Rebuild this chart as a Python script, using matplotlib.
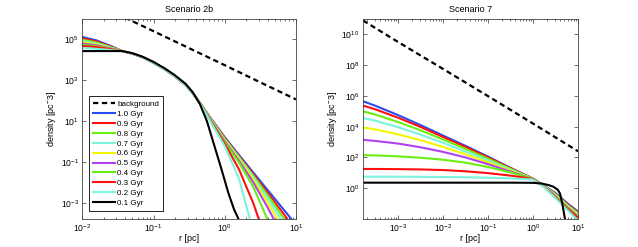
import numpy as np
import matplotlib
matplotlib.use('Agg')
import matplotlib.pyplot as plt
from matplotlib.ticker import LogLocator, NullLocator, NullFormatter

plt.rcParams['font.family'] = ['Liberation Sans', 'DejaVu Sans']
plt.rcParams['mathtext.fontset'] = 'custom'
plt.rcParams['mathtext.rm'] = 'Liberation Sans'
plt.rcParams['mathtext.it'] = 'Liberation Sans:italic'

# ---- data (log10 values) ----
ages = ['1.0 Gyr', '0.9 Gyr', '0.8 Gyr', '0.7 Gyr', '0.6 Gyr',
        '0.5 Gyr', '0.4 Gyr', '0.3 Gyr', '0.2 Gyr', '0.1 Gyr']
colors = ['#2a4cf5', '#ff1010', '#6aee10', '#78f5dc', '#f5f500',
          '#b040f0', '#6aee10', '#ff1010', '#78f5dc', '#000000']

# Scenario 2b
bg_2b_logr = [-1.4, -1.0, -0.5, 0.0, 0.5, 1.0]
bg_2b_logrho = [6.06, 5.4, 4.57, 3.74, 2.9, 2.07]

logr_2b = [-2, -1.8, -1.6, -1.44, -1.3, -1.15, -1.0, -0.85, -0.7, -0.55, -0.45, -0.35,
           -0.2, 0.0, 0.2, 0.4, 0.6, 0.8, 1.0]
rho_2b_10 = [5.12, 4.95, 4.68, 4.43, 4.31, 4.12, 3.86, 3.56, 3.2, 2.77, 2.38, 1.9,
             1.17, 0.22, -0.65, -1.5, -2.35, -3.2, -4.05]
rho_2b_09 = [5.05, 4.90, 4.65, 4.43, 4.31, 4.12, 3.86, 3.56, 3.2, 2.77, 2.38, 1.9,
             1.15, 0.18, -0.70, -1.58, -2.48, -3.4, -4.35]
rho_2b_08 = [4.98, 4.85, 4.62, 4.43, 4.31, 4.12, 3.86, 3.56, 3.2, 2.77, 2.38, 1.9,
             1.13, 0.14, -0.75, -1.65, -2.6, -3.6, -4.65]
rho_2b_07 = [4.92, 4.80, 4.60, 4.43, 4.31, 4.12, 3.86, 3.56, 3.2, 2.77, 2.38, 1.9,
             1.11, 0.10, -0.80, -1.73, -2.75, -3.85, -5.0]
rho_2b_06 = [4.86, 4.76, 4.58, 4.43, 4.31, 4.12, 3.86, 3.56, 3.2, 2.77, 2.38, 1.9,
             1.09, 0.06, -0.86, -1.84, -2.95, -4.15, -5.3]
rho_2b_05 = [4.80, 4.71, 4.56, 4.43, 4.31, 4.12, 3.86, 3.56, 3.2, 2.77, 2.38, 1.9,
             1.07, 0.02, -0.93, -1.98, -3.2, -4.5, -5.8]
rho_2b_04 = [4.74, 4.66, 4.54, 4.43, 4.31, 4.12, 3.86, 3.56, 3.2, 2.77, 2.38, 1.9,
             1.05, -0.03, -1.02, -2.2, -3.8, -5.2, -6.5]
rho_2b_03 = [4.68, 4.62, 4.52, 4.43, 4.31, 4.12, 3.86, 3.56, 3.2, 2.77, 2.38, 1.9,
             1.02, -0.10, -1.35, -3.0, -5.0, -6.5, -8.0]
rho_2b_02 = [4.58, 4.54, 4.48, 4.43, 4.31, 4.12, 3.86, 3.56, 3.2, 2.77, 2.38, 1.9,
             0.98, -0.22, -1.8, -4.4, -6.0, -7.0, -8.0]
logr_2b_01 = [-2, -1.44, -1.3, -1.15, -1.0, -0.85, -0.7, -0.55, -0.45, -0.35, -0.25,
              -0.15, -0.05, 0.05, 0.13, 0.2, 0.3]
rho_2b_01 = [4.43, 4.43, 4.33, 4.15, 3.9, 3.6, 3.25, 2.83, 2.42, 1.85, 1.0,
             -0.15, -1.3, -2.5, -3.3, -3.83, -4.6]

# Scenario 7
bg_7_logr = [-3.78, -3, -2, -1, 0, 0.5, 1.0]
bg_7_logrho = [10.9, 9.5, 7.75, 5.98, 4.2, 3.3, 2.4]

logr_7 = [-3.78, -3.5, -3, -2.5, -2, -1.5, -1, -0.5, 0, 0.25, 0.5, 0.75, 1.0]
rho_7_10 = [5.65, 5.35, 4.75, 4.1, 3.42, 2.75, 2.05, 1.32, 0.62, 0.15, -0.32, -0.95, -1.52]
rho_7_09 = [5.37, 5.12, 4.58, 3.98, 3.33, 2.68, 2.0, 1.3, 0.62, 0.14, -0.36, -1.0, -1.58]
rho_7_08 = [4.99, 4.78, 4.3, 3.76, 3.17, 2.55, 1.92, 1.26, 0.61, 0.13, -0.4, -1.05, -1.64]
rho_7_07 = [4.56, 4.38, 3.96, 3.48, 2.95, 2.38, 1.8, 1.2, 0.6, 0.12, -0.44, -1.1, -1.7]
rho_7_06 = [3.94, 3.82, 3.5, 3.12, 2.68, 2.2, 1.68, 1.14, 0.6, 0.11, -0.48, -1.15, -1.76]
rho_7_05 = [3.14, 3.07, 2.9, 2.66, 2.36, 2.0, 1.56, 1.08, 0.6, 0.1, -0.52, -1.2, -1.82]
rho_7_04 = [2.15, 2.13, 2.07, 1.98, 1.85, 1.66, 1.38, 1.02, 0.6, 0.09, -0.56, -1.25, -1.87]
rho_7_03 = [1.25, 1.25, 1.24, 1.22, 1.18, 1.1, 0.98, 0.82, 0.6, 0.08, -0.6, -1.3, -1.92]
rho_7_02 = [0.75, 0.75, 0.75, 0.74, 0.73, 0.71, 0.68, 0.64, 0.57, 0.06, -0.65, -1.38, -2.1]
logr_7_01 = [-3.78, -0.5, 0, 0.2, 0.35, 0.45, 0.55, 0.6, 0.65, 0.71, 0.76]
rho_7_01 = [0.36, 0.36, 0.35, 0.3, 0.2, 0.1, -0.1, -0.35, -1.0, -2.0, -2.6]

panels = [
    dict(title='Scenario 2b', bg=(bg_2b_logr, bg_2b_logrho),
         curves=[(logr_2b, rho_2b_10), (logr_2b, rho_2b_09), (logr_2b, rho_2b_08),
                 (logr_2b, rho_2b_07), (logr_2b, rho_2b_06), (logr_2b, rho_2b_05),
                 (logr_2b, rho_2b_04), (logr_2b, rho_2b_03), (logr_2b, rho_2b_02),
                 (logr_2b_01, rho_2b_01)],
         xlim=(1e-2, 1e1), ylim=(1.7e-4, 1e6),
         xticks=[1e-2, 1e-1, 1e0, 1e1], yticks=[1e-3, 1e-1, 1e1, 1e3, 1e5],
         rect=[0.129, 0.1134, 0.335, 0.81], legend=True),
    dict(title='Scenario 7', bg=(bg_7_logr, bg_7_logrho),
         curves=[(logr_7, rho_7_10), (logr_7, rho_7_09), (logr_7, rho_7_08),
                 (logr_7, rho_7_07), (logr_7, rho_7_06), (logr_7, rho_7_05),
                 (logr_7, rho_7_04), (logr_7, rho_7_03), (logr_7, rho_7_02),
                 (logr_7_01, rho_7_01)],
         xlim=(10**-3.78, 1e1), ylim=(1e-2, 1e11),
         xticks=[1e-3, 1e-2, 1e-1, 1e0, 1e1], yticks=[1e0, 1e2, 1e4, 1e6, 1e8, 1e10],
         rect=[0.569, 0.1134, 0.337, 0.81], legend=False),
]

fig = plt.figure(figsize=(6.38, 2.47), dpi=100)

for p in panels:
    ax = fig.add_axes(p['rect'])
    bx, by = p['bg']
    ax.plot(10**np.array(bx), 10**np.array(by), color='black', lw=1.6,
            linestyle=(0, (2.4, 1.6)), label='background')
    for (xs, ys), c, lab in zip(p['curves'], colors, ages):
        ax.plot(10**np.array(xs), 10**np.array(ys), color=c, lw=1.5, label=lab)
    ax.set_xscale('log')
    ax.set_yscale('log')
    ax.set_xlim(*p['xlim'])
    ax.set_ylim(*p['ylim'])
    ax.set_xticks(p['xticks'])
    ax.set_yticks(p['yticks'])
    ax.xaxis.set_minor_locator(LogLocator(base=10, subs=np.arange(2, 10)))
    ax.xaxis.set_minor_formatter(NullFormatter())
    ax.yaxis.set_minor_locator(NullLocator())
    ax.tick_params(which='both', direction='in', top=True, right=True,
                   width=0.5, colors='#333333', labelcolor='black')
    ax.tick_params(which='major', length=3, labelsize=6.2, pad=2.5)
    ax.tick_params(which='minor', length=1.5)
    for s in ax.spines.values():
        s.set_linewidth(0.6)
        s.set_color('#444444')
    ax.set_title(p['title'], fontsize=6.5, pad=5)
    ax.set_xlabel('r [pc]', fontsize=6.5, labelpad=0)
    ax.set_ylabel('density [pc$^{-}$3]', fontsize=6.5, labelpad=2)
    if p['legend']:
        leg = ax.legend(loc='lower left', bbox_to_anchor=(0.031, 0.04),
                        borderaxespad=0, fontsize=5.8, handlelength=2.7,
                        handletextpad=0.3, labelspacing=0.28, borderpad=0.5,
                        fancybox=False, framealpha=1)
        leg.get_frame().set_edgecolor('black')
        leg.get_frame().set_linewidth(0.6)

plt.savefig('out.png', dpi=100)
